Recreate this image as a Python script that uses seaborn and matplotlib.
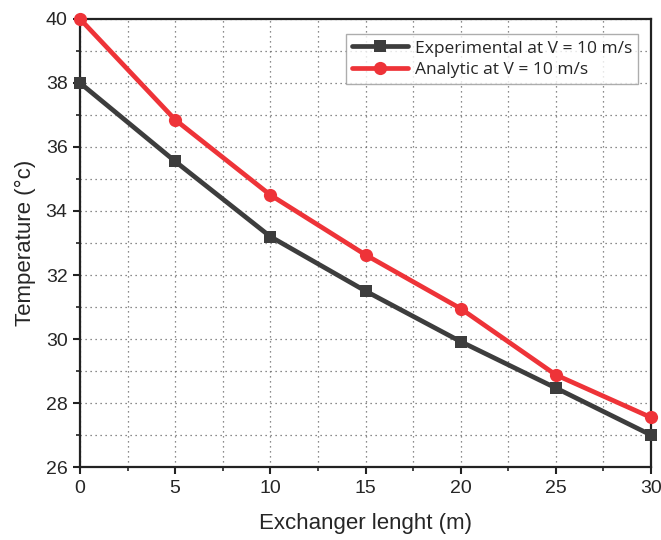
import matplotlib
matplotlib.use("Agg")
import matplotlib.pyplot as plt
import seaborn as sns
import pandas as pd
from matplotlib.ticker import MultipleLocator

length_m = [0, 5, 10, 15, 20, 25, 30]
experimental = [38.0, 35.55, 33.2, 31.5, 29.92, 28.47, 27.0]
analytic = [40.0, 36.85, 34.5, 32.63, 30.95, 28.88, 27.55]
series_names = ["Experimental at V = 10 m/s", "Analytic at V = 10 m/s"]

sns.set_style("white")
plt.rcParams['font.family'] = ['Liberation Sans', 'DejaVu Sans']

fig = plt.figure(figsize=(6.61, 5.4), dpi=100)
ax = fig.add_axes([0.121, 0.135, 0.864, 0.83])

df_exp = pd.DataFrame({"x": length_m, "y": experimental})
df_ana = pd.DataFrame({"x": length_m, "y": analytic})

sns.lineplot(data=df_exp, x="x", y="y", ax=ax, color="#3d3d3d", lw=3.4,
             marker="s", markersize=8.5, markeredgewidth=0, label=series_names[0],
             clip_on=False, zorder=3)
sns.lineplot(data=df_ana, x="x", y="y", ax=ax, color="#ee3338", lw=3.4,
             marker="o", markersize=9.5, markeredgewidth=0, label=series_names[1],
             clip_on=False, zorder=4)

ax.set_xlim(0, 30)
ax.set_ylim(26, 40)
ax.xaxis.set_major_locator(MultipleLocator(5))
ax.xaxis.set_minor_locator(MultipleLocator(2.5))
ax.yaxis.set_major_locator(MultipleLocator(2))
ax.yaxis.set_minor_locator(MultipleLocator(1))

ax.grid(True, which="both", linestyle=(0, (1, 3)), color="#666666", linewidth=0.9)
ax.set_axisbelow(True)

for s in ax.spines.values():
    s.set_visible(True)
    s.set_color("#222222")
    s.set_linewidth(1.6)

ax.tick_params(axis="both", which="major", direction="out", length=5, width=1.5,
               color="#222222", labelsize=14, pad=4, bottom=True, left=True)
ax.tick_params(axis="both", which="minor", direction="out", length=3, width=1.2,
               color="#222222", bottom=True, left=True)

ax.set_xlabel("Exchanger lenght (m)", fontsize=16, labelpad=12)
ax.set_ylabel("Temperature (°c)", fontsize=16, labelpad=7)

leg = ax.legend(loc="upper right", bbox_to_anchor=(0.992, 0.985),
                frameon=True, fancybox=False, edgecolor="#999999",
                handlelength=3.2, handletextpad=0.4, borderpad=0.35,
                labelspacing=0.3, prop={"family": ["Open Sans", "DejaVu Sans"], "size": 12.5})
leg.get_frame().set_linewidth(1.0)

fig.savefig("out.png", dpi=100)
